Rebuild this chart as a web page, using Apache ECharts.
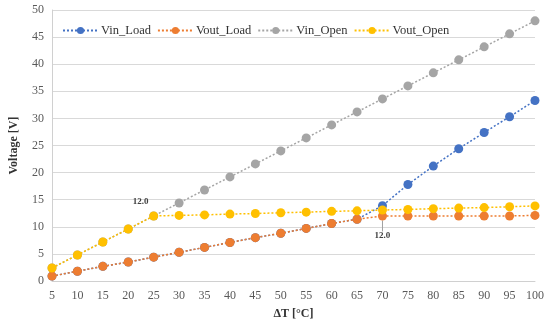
<!DOCTYPE html>
<html><head><meta charset="utf-8">
<script src="https://cdn.jsdelivr.net/npm/echarts@6/dist/echarts.min.js"></script>
<style>html,body{margin:0;padding:0;background:#fff}#c{width:550px;height:325px}</style>
</head><body><div id="c"></div>
<script>
const categories = ['5','10','15','20','25','30','35','40','45','50','55','60','65','70','75','80','85','90','95','100'];
const vinLoad  = [0.9,1.8,2.7,3.5,4.4,5.3,6.2,7.1,8.0,8.8,9.7,10.6,11.4,13.9,17.8,21.2,24.4,27.4,30.3,33.3];
const voutLoad = [0.9,1.8,2.7,3.5,4.4,5.3,6.2,7.1,8.0,8.8,9.7,10.6,11.4,12.0,12.0,12.0,12.0,12.0,12.0,12.1];
const vinOpen  = [2.4,4.8,7.2,9.6,12.0,14.4,16.8,19.2,21.6,24.0,26.4,28.8,31.2,33.6,36.0,38.4,40.8,43.2,45.6,48.0];
const voutOpen = [2.4,4.8,7.2,9.6,12.0,12.1,12.2,12.35,12.45,12.6,12.7,12.85,12.95,13.1,13.2,13.35,13.45,13.55,13.7,13.85];
const seriesNames = ['Vin_Load','Vout_Load','Vin_Open','Vout_Open'];
const colors = ['#4472c4','#ed7d31','#a5a5a5','#ffc000'];
const yTicks = {min:0, max:50, interval:5};
const labelIdxVoutLoad = 13;
const labelIdxVoutOpen = 4;

const FONT = '"Liberation Serif", "DejaVu Serif", serif';
const lblStyle = {fontSize:9, fontWeight:'bold', color:'#404040', fontFamily:FONT,
  formatter: p => Number(p.value).toFixed(1)};
function mkSeries(name, data, color, z, extra) {
  return Object.assign({
    name, type:'line', data, z,
    symbol:'circle', symbolSize:9,
    itemStyle:{color},
    lineStyle:{color, width:1.5, type:[2,2]},
    emphasis:{disabled:true}, animation:false
  }, extra||{});
}
const voutLoadData = voutLoad.map((v,i) => i===labelIdxVoutLoad ? {
  value:v,
  label:Object.assign({show:true, position:'bottom', distance:3}, lblStyle),
  labelLine:{show:true, lineStyle:{color:'#a0a0a0', width:1}}
} : v);
const voutOpenData = voutOpen.map((v,i) => i===labelIdxVoutOpen ? {
  value:v,
  label:Object.assign({show:true, position:'top', distance:5, offset:[-13,0]}, lblStyle)
} : v);

const chart = echarts.init(document.getElementById('c'));
chart.setOption({
  animation:false,
  color: colors,
  textStyle:{fontFamily:FONT},
  grid:{left:48, right:15, top:10, bottom:42},
  legend:{
    top:19, left:57, itemWidth:35, itemHeight:9, itemGap:6,
    textStyle:{fontFamily:FONT, fontSize:12.5, color:'#333', padding:[0,0,0,-2]},
    data: seriesNames
  },
  xAxis:{
    type:'category', data:categories, boundaryGap:false,
    name:'ΔT [°C]', nameLocation:'middle', nameGap:27,
    nameTextStyle:{fontFamily:FONT, fontSize:12, fontWeight:'bold', color:'#333'},
    axisLine:{lineStyle:{color:'#d0d0d0'}}, axisTick:{show:false},
    axisLabel:{fontFamily:FONT, fontSize:12, color:'#595959', margin:9},
    splitLine:{show:false}
  },
  yAxis:{
    type:'value', min:yTicks.min, max:yTicks.max, interval:yTicks.interval,
    name:'Voltage [V]', nameLocation:'middle', nameGap:32,
    nameTextStyle:{fontFamily:FONT, fontSize:12, fontWeight:'bold', color:'#333'},
    axisLine:{show:true, lineStyle:{color:'#d0d0d0'}}, axisTick:{show:false},
    axisLabel:{fontFamily:FONT, fontSize:12, color:'#595959', margin:8},
    splitLine:{lineStyle:{color:'#d9d9d9'}}
  },
  series:[
    mkSeries(seriesNames[0], vinLoad, colors[0], 2),
    mkSeries(seriesNames[1], voutLoadData, colors[1], 3, {
      labelLayout: p => p.dataIndex===labelIdxVoutLoad ? {dy:8} : {}
    }),
    mkSeries(seriesNames[2], vinOpen, colors[2], 1),
    mkSeries(seriesNames[3], voutOpenData, colors[3], 4)
  ]
});
</script></body></html>
